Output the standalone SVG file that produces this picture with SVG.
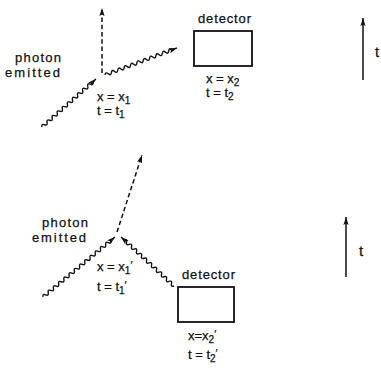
<svg xmlns="http://www.w3.org/2000/svg" width="381" height="371" viewBox="0 0 381 371">
<style>
text{font-family:"Liberation Sans",Arial,sans-serif;font-size:13px;fill:#111;stroke:#111;stroke-width:0.25}
.sub{font-size:10px}
.pr{font-size:11px}
.big{font-size:15px}
.wave{fill:none;stroke:#111;stroke-width:1.4;marker-end:url(#ah)}
.dash{fill:none;stroke:#111;stroke-width:1.5;stroke-dasharray:4.5 2.8;marker-end:url(#ah)}
.solid{fill:none;stroke:#111;stroke-width:1.5;marker-end:url(#ah)}
.box{fill:#fff;stroke:#111;stroke-width:1.8}
</style>
<defs>
<marker id="ah" viewBox="-9 -4 10 8" refX="0" refY="0" markerWidth="10" markerHeight="8" markerUnits="userSpaceOnUse" orient="auto">
<path d="M0,0 L-8,-2.6 L-6.5,0 L-8,2.6 z" fill="#111"/>
</marker>
</defs>
<rect width="381" height="371" fill="#fff"/>

<g id="connectors">
<!-- top panel -->
<line class="dash" x1="102" y1="73" x2="102" y2="8"/>
<path class="wave" transform="translate(42,127) rotate(-41.6)" d="M0,0 q1.7,-3.2 3.4,0 t3.4,0 t3.4,0 t3.4,0 t3.4,0 t3.4,0 t3.4,0 t3.4,0 t3.4,0 t3.4,0 t3.4,0 t3.4,0 t3.4,0 t3.4,0 t3.4,0 t3.4,0 t3.4,0 t3.4,0 t3.4,0 t3.4,0 l4.2,0"/>
<path class="wave" transform="translate(105,75) rotate(-20.6)" d="M0,0 q1.7,-3.2 3.4,0 t3.4,0 t3.4,0 t3.4,0 t3.4,0 t3.4,0 t3.4,0 t3.4,0 t3.4,0 t3.4,0 t3.4,0 t3.4,0 t3.4,0 t3.4,0 t3.4,0 t3.4,0 t3.4,0 t3.4,0 t3.4,0 t3.4,0 t3.4,0 l5.5,0"/>
<line class="solid" x1="363" y1="80" x2="363" y2="18"/>
<!-- bottom panel -->
<line class="dash" x1="117" y1="232" x2="142" y2="155"/>
<path class="wave" transform="translate(43,297) rotate(-39.8)" d="M0,0 q1.7,-3.2 3.4,0 t3.4,0 t3.4,0 t3.4,0 t3.4,0 t3.4,0 t3.4,0 t3.4,0 t3.4,0 t3.4,0 t3.4,0 t3.4,0 t3.4,0 t3.4,0 t3.4,0 t3.4,0 t3.4,0 t3.4,0 t3.4,0 t3.4,0 t3.4,0 t3.4,0 t3.4,0 t3.4,0 t3.4,0 t3.4,0 l5.3,0"/>
<path class="wave" transform="translate(174,286) rotate(-137.2)" d="M0,0 q1.7,-3.2 3.4,0 t3.4,0 t3.4,0 t3.4,0 t3.4,0 t3.4,0 t3.4,0 t3.4,0 t3.4,0 t3.4,0 t3.4,0 t3.4,0 t3.4,0 t3.4,0 t3.4,0 t3.4,0 t3.4,0 t3.4,0 t3.4,0 t3.4,0 l4.2,0"/>
<line class="solid" x1="346" y1="277" x2="346" y2="217"/>
</g>

<g id="emission-top">
<text x="15" y="61.5" textLength="46" lengthAdjust="spacing">photon</text>
<text x="5" y="77" textLength="55" lengthAdjust="spacing">emitted</text>
<text x="97" y="101">x = x<tspan class="sub" dy="3">1</tspan></text>
<text x="97" y="115">t = t<tspan class="sub" dy="3">1</tspan></text>
</g>

<g id="detector-top">
<text x="198" y="23" textLength="53" lengthAdjust="spacing">detector</text>
<rect class="box" x="194" y="31" width="58" height="35"/>
<text x="206" y="83">x = x<tspan class="sub" dy="3">2</tspan></text>
<text x="206" y="97">t = t<tspan class="sub" dy="3">2</tspan></text>
</g>

<g id="time-top">
<text class="big" x="375" y="57">t</text>
</g>

<g id="emission-bottom">
<text x="42" y="227" textLength="46" lengthAdjust="spacing">photon</text>
<text x="32" y="242" textLength="54" lengthAdjust="spacing">emitted</text>
<text x="97" y="271">x = x<tspan class="sub" dy="3">1</tspan><tspan class="pr" dy="-5">′</tspan></text>
<text x="97" y="291">t = t<tspan class="sub" dy="3">1</tspan><tspan class="pr" dy="-5">′</tspan></text>
</g>

<g id="detector-bottom">
<text x="182" y="279" textLength="53" lengthAdjust="spacing">detector</text>
<rect class="box" x="178" y="287" width="56" height="35"/>
<text x="188" y="340">x=x<tspan class="sub" dy="3">2</tspan><tspan class="pr" dy="-5">′</tspan></text>
<text x="188" y="359">t = t<tspan class="sub" dy="3">2</tspan><tspan class="pr" dy="-5">′</tspan></text>
</g>

<g id="time-bottom">
<text class="big" x="359" y="256">t</text>
</g>
</svg>
